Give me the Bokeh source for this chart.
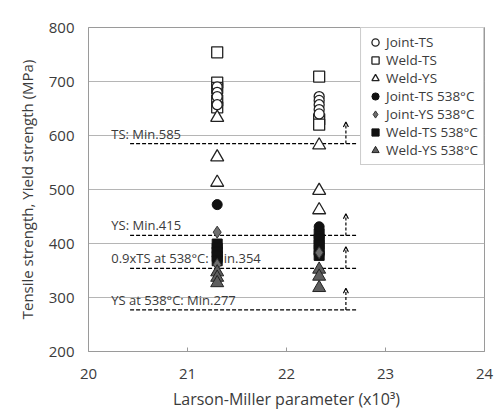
from bokeh.plotting import figure
from bokeh.models import (FixedTicker, Legend, LegendItem, Arrow, OpenHead,
                          ColumnDataSource, Range1d)
from bokeh.core.properties import value
from bokeh.embed import file_html
from bokeh.resources import INLINE

FONT = "Open Sans"
TEXT = "#3b3b3b"

# Larson-Miller parameter (x10^3) of the two test conditions
LMP_A = 21.3
LMP_B = 22.33

# Strength values (MPa) per series, grouped by test condition
joint_ts_a = [690, 680, 672, 657]
joint_ts_b = [672, 665, 657, 648, 640]
weld_ts_a = [754, 698, 688, 665, 652]
weld_ts_b = [709, 630, 620]
weld_ys_a = [633, 560, 513]
weld_ys_b = [582, 498, 462]
joint_ts538_a = [472]
joint_ts538_b = [431, 380]
joint_ys538_a = [421, 361]
joint_ys538_b = [383]
weld_ts538_a = [399, 391, 384, 376, 368]
weld_ts538_b = [418, 408, 398, 389, 378]
weld_ys538_a = [347, 337, 327]
weld_ys538_b = [352, 339, 318]

# Minimum requirement lines
req_labels = ["TS: Min.585", "YS: Min.415", "0.9xTS at 538°C: Min.354",
              "YS at 538°C: Min.277"]
req_values = [585, 415, 354, 277]
req_x_start = 20.42
req_x_end = 22.72
req_label_x = 20.23
arrow_x = 22.6
arrow_len = 40

x_ticks = [20, 21, 22, 23, 24]
y_ticks = [200, 300, 400, 500, 600, 700, 800]

p = figure(width=503, height=412, output_backend="svg", toolbar_location=None,
           x_range=Range1d(20, 24), y_range=Range1d(200, 800),
           min_border_left=88, min_border_right=19, min_border_top=27,
           min_border_bottom=58)
p.background_fill_color = "white"
p.border_fill_color = "white"
p.outline_line_color = "#9a9a9a"
p.outline_line_width = 1

p.xgrid.grid_line_color = None
p.ygrid.grid_line_color = "#b5b5b5"
p.ygrid.grid_line_width = 1

p.xaxis.ticker = FixedTicker(ticks=x_ticks)
p.yaxis.ticker = FixedTicker(ticks=y_ticks)
for ax in (p.xaxis, p.yaxis):
    ax.axis_line_color = "#9a9a9a"
    ax.major_label_text_font = FONT
    ax.major_label_text_font_size = "15px"
    ax.major_label_text_color = TEXT
    ax.axis_label_text_font = FONT
    ax.axis_label_text_font_style = "normal"
    ax.axis_label_text_color = TEXT
    ax.minor_tick_line_color = None
    ax.major_tick_out = 0
p.xaxis.axis_label_text_font_size = "16px"
p.yaxis.axis_label_text_font_size = "15px"
p.xaxis.major_tick_in = 4
p.xaxis.major_tick_line_color = "#9a9a9a"
p.yaxis.major_tick_in = 0
p.yaxis.major_tick_line_color = None
p.xaxis.major_label_standoff = 17
p.yaxis.major_label_standoff = 14
p.xaxis.axis_label = "Larson-Miller parameter (x10³)"
p.yaxis.axis_label = "Tensile strength, Yield strength (MPa)"
p.xaxis.axis_label_standoff = 6
p.yaxis.axis_label_standoff = 9

# Requirement lines, labels and arrows
for lab, v in zip(req_labels, req_values):
    p.line([req_x_start, req_x_end], [v, v], line_color="black",
           line_width=1.4, line_dash="4 2")
    p.text([req_label_x], [v], text=[lab], text_font=value(FONT),
           text_font_size="13px", text_color=TEXT,
           text_baseline="bottom", y_offset=-1)
    p.add_layout(Arrow(end=OpenHead(size=5, line_color="black", line_width=1.2),
                       x_start=arrow_x, y_start=v, x_end=arrow_x,
                       y_end=v + arrow_len, line_color="black",
                       line_width=1.2, line_dash="3 2"))


def pts(a, b):
    return ColumnDataSource(dict(x=[LMP_A] * len(a) + [LMP_B] * len(b), y=a + b))


r_wts = p.scatter("x", "y", source=pts(weld_ts_a, weld_ts_b), marker="square",
                  size=11, fill_color="white", line_color="#222222", line_width=1.3)
r_jts = p.scatter("x", "y", source=pts(joint_ts_a, joint_ts_b), marker="circle",
                  size=10, fill_color="white", line_color="#222222", line_width=1.3)
r_wys = p.scatter("x", "y", source=pts(weld_ys_a, weld_ys_b), marker="triangle",
                  size=13, fill_color="white", line_color="#222222", line_width=1.3)
r_wts538 = p.scatter("x", "y", source=pts(weld_ts538_a, weld_ts538_b),
                     marker="square", size=10, fill_color="#111111",
                     line_color="#111111")
r_jts538 = p.scatter("x", "y", source=pts(joint_ts538_a, joint_ts538_b),
                     marker="circle", size=10, fill_color="#111111",
                     line_color="#111111")
r_jys538 = p.scatter("x", "y", source=pts(joint_ys538_a, joint_ys538_b),
                     marker="diamond", size=12, fill_color="#6e6e6e",
                     line_color="#333333", line_width=1)
r_wys538 = p.scatter("x", "y", source=pts(weld_ys538_a, weld_ys538_b),
                     marker="triangle", size=13, fill_color="#5e5e5e",
                     line_color="#222222", line_width=1)

legend = Legend(items=[
    LegendItem(label="Joint-TS", renderers=[r_jts]),
    LegendItem(label="Weld-TS", renderers=[r_wts]),
    LegendItem(label="Weld-YS", renderers=[r_wys]),
    LegendItem(label="Joint-TS 538°C", renderers=[r_jts538]),
    LegendItem(label="Joint-YS 538°C", renderers=[r_jys538]),
    LegendItem(label="Weld-TS 538°C", renderers=[r_wts538]),
    LegendItem(label="Weld-YS 538°C", renderers=[r_wys538]),
], location="top_right")
legend.margin = 0
legend.padding = 5
legend.spacing = 0
legend.glyph_width = 18
legend.glyph_height = 18
legend.label_height = 18
legend.label_standoff = 2
legend.label_text_font = FONT
legend.label_text_font_size = "13.5px"
legend.label_text_color = TEXT
legend.border_line_color = "#9a9a9a"
legend.border_line_width = 1
legend.background_fill_color = "white"
legend.background_fill_alpha = 1
p.add_layout(legend)

open("out.html", "w").write(file_html(p, INLINE))
